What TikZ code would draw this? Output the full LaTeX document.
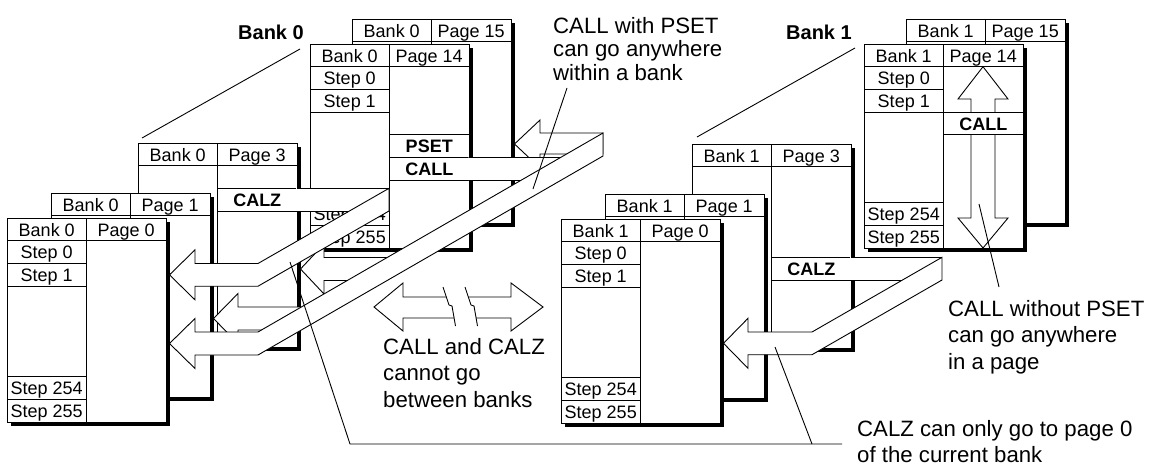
\documentclass[tikz,border=0pt]{standalone}
\usepackage{fontspec}
\setmainfont{Liberation Sans}
\newcommand\tfont{\fontsize{18}{20}\selectfont}
\newcommand\afont{\fontsize{22.2}{26.5}\selectfont}
\newcommand\cfont{\fontsize{22.2}{23.5}\selectfont}
\newcommand\lfont{\fontsize{20}{24}\selectfont\bfseries}
\tikzset{
  ln/.style={line width=0.9pt, draw=black},
  tx/.style={anchor=base, inner sep=0pt, font=\tfont},
  bx/.style={anchor=base, inner sep=0pt, font=\tfont\bfseries},
  note/.style={anchor=north west, inner sep=0pt, align=left, font=\afont},
  banklab/.style={anchor=base, inner sep=0pt, font=\lfont},
  rib/.style={fill=white, draw=black, line width=0.9pt, line join=miter},
}
% page box: #1 x, #2 y, #3 bank, #4 page, #5 name
\newcommand\pgbox[5]{%
  \fill[black] ({#1+3.5},{#2+3.5}) rectangle ({#1+162.5},{#2+207.5});
  \filldraw[fill=white,ln] (#1,#2) rectangle ({#1+159},{#2+204});
  \draw[ln] (#1,{#2+22.67}) -- ({#1+159},{#2+22.67});
  \draw[ln] ({#1+79.5},#2) -- ({#1+79.5},{#2+204});
  \node[tx] (#5b) at ({#1+39.75},{#2+18}) {Bank #3};
  \node[tx] (#5p) at ({#1+119.25},{#2+18}) {Page #4};
}
% step rows: #1 x, #2 y, #3 name
\newcommand\steprows[3]{%
  \draw[ln] (#1,{#2+45.33}) -- ({#1+79.5},{#2+45.33});
  \draw[ln] (#1,{#2+68}) -- ({#1+79.5},{#2+68});
  \draw[ln] (#1,{#2+158.67}) -- ({#1+79.5},{#2+158.67});
  \draw[ln] (#1,{#2+181.33}) -- ({#1+79.5},{#2+181.33});
  \node[tx] (#3s0) at ({#1+39.75},{#2+40.67}) {Step 0};
  \node[tx] (#3s1) at ({#1+39.75},{#2+63.33}) {Step 1};
  \node[tx] (#3s254) at ({#1+39.75},{#2+176.67}) {Step 254};
  \node[tx] (#3s255) at ({#1+39.75},{#2+199.33}) {Step 255};
}
% label cell in right column: #1 x, #2 y, #3 row, #4 text, #5 name
\newcommand\labcell[5]{%
  \draw[ln] ({#1+79.5},{#2+22.667*#3}) -- ({#1+159},{#2+22.667*#3});
  \draw[ln] ({#1+79.5},{#2+22.667*(#3+1)}) -- ({#1+159},{#2+22.667*(#3+1)});
  \node[bx] (#5) at ({#1+119.25},{#2+22.667*#3+18}) {#4};
}
\begin{document}
\begin{tikzpicture}[x=1pt,y=-1pt]
\useasboundingbox (0,0) rectangle (1162,466);

% ---------------- Bank labels ----------------
\node[banklab] (bank0) at (271,39) {Bank 0};
\node[banklab] (bank1) at (819,39) {Bank 1};
\coordinate (b0a) at (300,49); \coordinate (b0b) at (142,138);
\coordinate (b1a) at (855,48); \coordinate (b1b) at (697,137);
\draw[ln] (b0a) -- (b0b);
\draw[ln] (b1a) -- (b1b);

% ---------------- Bank 0 pages ----------------
\pgbox{352}{19}{0}{15}{AP15}
\pgbox{310}{44}{0}{14}{AP14}
\steprows{310}{44}{AP14}
\labcell{310}{44}{4}{PSET}{APset}
\labcell{310}{44}{5}{CALL}{ACall}
\pgbox{138}{143}{0}{3}{AP3}
\labcell{138}{143}{2}{CALZ}{ACalz}
\pgbox{51}{193}{0}{1}{AP1}
\pgbox{7}{218}{0}{0}{AP0}
\steprows{7}{218}{AP0}

% ---------------- Bank 1 pages ----------------
\pgbox{906}{19}{1}{15}{BP15}
\pgbox{864}{44}{1}{14}{BP14}
\steprows{864}{44}{BP14}
\labcell{864}{44}{3}{CALL}{BCall}
\pgbox{692}{144}{1}{3}{BP3}
\labcell{692}{144}{5}{CALZ}{BCalz}
\pgbox{605}{194}{1}{1}{BP1}
\pgbox{561}{219}{1}{0}{BP0}
\steprows{561}{219}{BP0}

% ---------------- Bank 0 ribbons ----------------
% arrow into page 15
\filldraw[rib] (603,133) -- (540,133) -- (540,120) -- (514.5,144) -- (540,168) -- (540,154) -- (603,154) -- cycle;
% CALL band
\fill[white] (468.4,157.3) -- (582,157.3) -- (542,180) -- (468.4,180) -- cycle;
\draw[ln] (469,157.3) -- (582,157.3) (469,180) -- (542,180);
% arrow into page 3
\filldraw[rib] (407,257.5) -- (324,257.5) -- (324,244) -- (300.5,269) -- (324,294) -- (324,280.5) -- (367,280.5) -- cycle;
% arrow into page 1
\filldraw[rib] (321,307) -- (238,307) -- (238,293.5) -- (213.5,318.5) -- (238,343.5) -- (238,330) -- (281,330) -- cycle;
% CALZ ribbon to page 0
\fill[white] (296.4,188.3) rectangle (389,211);
\draw[ln] (297,188.3) -- (389,188.3) (297,211) -- (389,211);
\filldraw[rib] (389,188.3) -- (258,263.5) -- (195,263.5) -- (195,249.85) -- (169.5,274.85) -- (195,299.85) -- (195,286.2) -- (258,286.2) -- (389,211) -- cycle;
% main CALL ribbon to page 0
\filldraw[rib] (603,133) -- (258,332) -- (195,332) -- (195,318.5) -- (169.5,343.5) -- (195,368.5) -- (195,355) -- (258,355) -- (603,156) -- cycle;

% ---------------- Bank 1 ribbons ----------------
\fill[white] (850.4,257.3) rectangle (942,280);
\draw[ln] (851,257.3) -- (942,257.3) (851,280) -- (942,280);
\filldraw[rib] (942,257.3) -- (812,332) -- (748,332) -- (748,318.3) -- (723.5,343.3) -- (748,368.3) -- (748,354.7) -- (812,354.7) -- (942,280) -- cycle;
% up and down arrows in page 14
\draw[ln, line join=miter] (971,112) -- (971,99) -- (958,99) -- (983,66.7) -- (1008,99) -- (995,99) -- (995,112);
\draw[ln, line join=miter] (971,134.7) -- (971,218) -- (958,218) -- (983,248) -- (1008,218) -- (995,218) -- (995,134.7);

% ---------------- between banks ----------------
\draw[ln, line join=miter] (446.3,297) -- (403,297) -- (403,283) -- (374,307) -- (403,331) -- (403,318) -- (454.1,318);
\draw[ln] (443,287) -- (449,305) -- (452,306) -- (455.5,326);
\draw[ln] (465,287) -- (471,305) -- (474,306) -- (477.5,326);
\draw[ln, line join=miter] (468.3,297) -- (511,297) -- (511,283) -- (543,307) -- (511,331) -- (511,318) -- (476.1,318);

% ---------------- notes ----------------
\node[note, font=\cfont] (n1) at (553,17) {CALL with PSET\\can go anywhere\\within a bank};
\node[note] (n2) at (383,338) {CALL and CALZ\\cannot go\\between banks};
\node[note] (n3) at (948,300) {CALL without PSET\\can go anywhere\\in a page};
\node[note] (n4) at (857,420) {CALZ can only go to page 0\\of the current bank};

\coordinate (l1a) at (567,88); \coordinate (l1b) at (533,189);
\draw[ln] (l1a) -- (l1b);
\coordinate (l3a) at (999,287); \coordinate (l3b) at (979,204);
\draw[ln] (l3a) -- (l3b);
\coordinate (l4a) at (290,262); \coordinate (l4b) at (350,444);
\coordinate (l4c) at (842,444); \coordinate (l4d) at (812,444); \coordinate (l4e) at (775,347);
\draw[ln] (l4a) -- (l4b) -- (l4c);
\draw[ln] (l4d) -- (l4e);
\end{tikzpicture}
\end{document}
